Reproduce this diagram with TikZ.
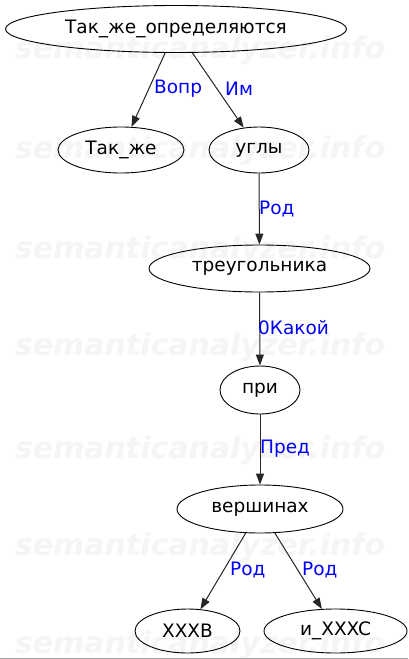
\documentclass[tikz,border=0pt]{standalone}
\usepackage{fontspec}
\setmainfont{DejaVu Sans}
\usetikzlibrary{shapes.geometric,arrows.meta}
\begin{document}
\begin{tikzpicture}[x=1pt,y=-1pt,
  every node/.style={font=\fontsize{18.5}{22}\selectfont},
  word/.style={ellipse,draw,line width=0.9pt,inner sep=0pt},
  lab/.style={text=blue,anchor=west,inner sep=0pt},
  edge/.style={line width=1pt,draw=black!85,-{Triangle[length=11pt,width=8pt]}},
  wmark/.style={text=black!4,font=\fontsize{30}{34}\selectfont\bfseries\itshape}]
\fill[white] (0,0) rectangle (408,659);
\useasboundingbox (0,0) rectangle (408,659);
\foreach \yy/\nm in {50/w1,150/w2,250/w3,347/w4,450/w5,547/w6,645/w7}
  \node[wmark] (\nm) at (200,\yy) {semanticanalyzer.info};
\draw[black!35,line width=1pt] (0,658) -- (408,658);
\node[word,minimum width=341pt,minimum height=47pt] (top) at (176,29) {Так\_же\_определяются};
\node[word,minimum width=126pt,minimum height=46pt] (tz) at (121,150) {Так\_же};
\node[word,minimum width=100pt,minimum height=46pt] (ug) at (259,150) {углы};
\node[word,minimum width=221pt,minimum height=47pt] (tr) at (259.5,268.5) {треугольника};
\node[word,minimum width=80pt,minimum height=48pt] (pri) at (260,390) {при};
\node[word,minimum width=166pt,minimum height=48pt] (ver) at (260,509) {вершинах};
\node[word,minimum width=105pt,minimum height=44pt] (xb) at (187.5,631) {XXXB};
\node[word,minimum width=143pt,minimum height=44pt] (xc) at (335.5,631) {и\_XXXC};
\draw[edge] (top) -- (tz);
\draw[edge] (top) -- (ug);
\draw[edge] (ug) -- (tr);
\draw[edge] (tr) -- (pri);
\draw[edge] (pri) -- (ver);
\draw[edge] (ver) -- (xb);
\draw[edge] (ver) -- (xc);
\node[lab] (l1) at (154,89) {Вопр};
\node[lab] (l2) at (225,89) {Им};
\node[lab] (l3) at (259,209) {Род};
\node[lab] (l4) at (258,328) {0Какой};
\node[lab] (l5) at (260,449) {Пред};
\node[lab] (l6) at (230,570) {Род};
\node[lab] (l7) at (302,570) {Род};
\end{tikzpicture}
\end{document}
